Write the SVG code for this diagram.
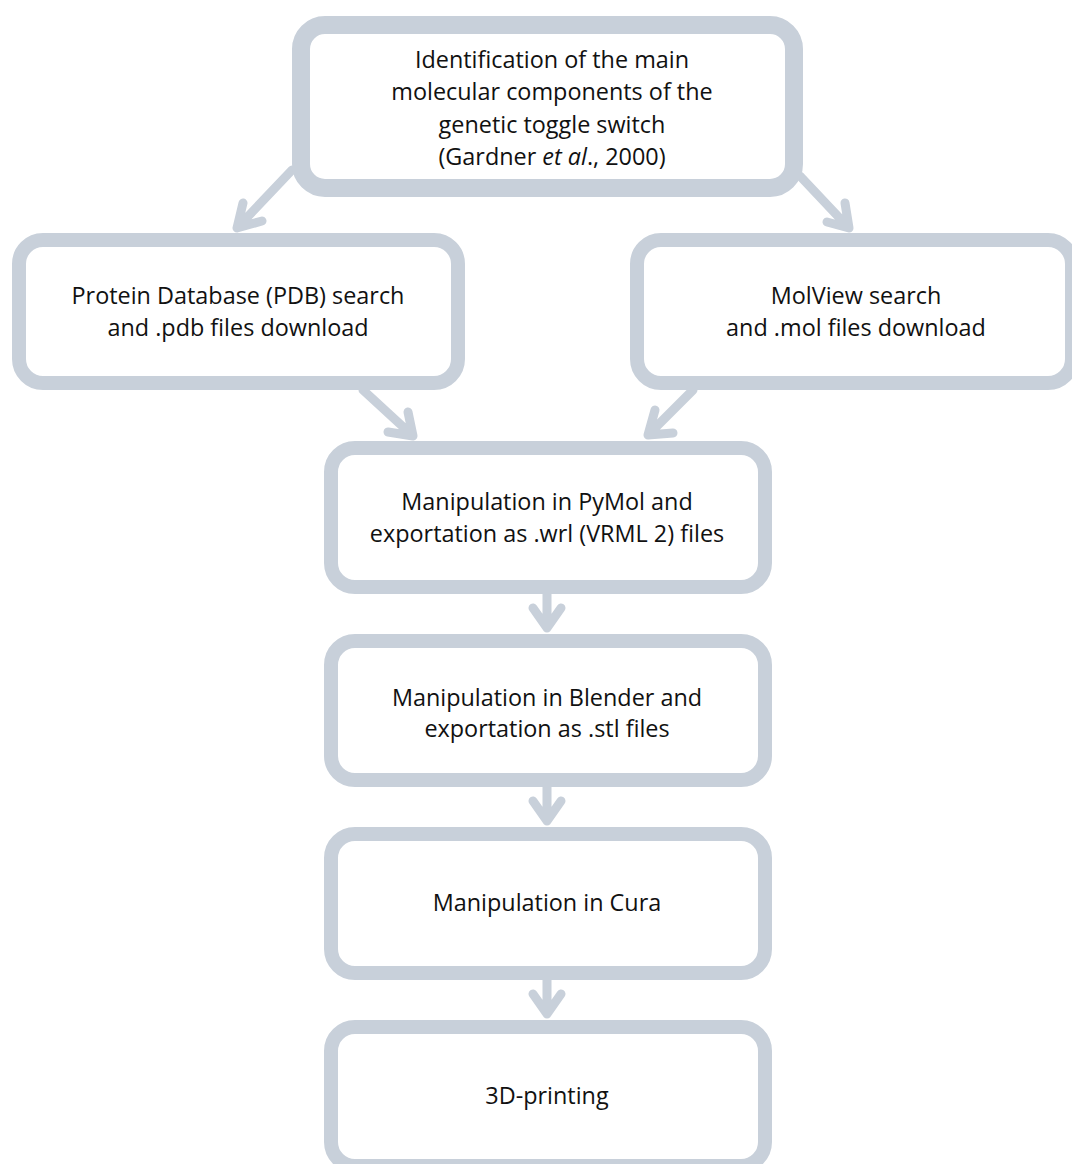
<svg xmlns="http://www.w3.org/2000/svg" width="1072" height="1164" viewBox="0 0 1072 1164">
<style>
.box{fill:#ffffff;stroke:#c8d0da;stroke-width:14}
.top{stroke-width:18}
.arr{fill:none;stroke:#c8d0da;stroke-width:9;stroke-linecap:round;stroke-linejoin:round}
text{font-family:"Open Sans","Noto Sans","Liberation Sans",sans-serif;font-size:23.4px;fill:#111111;text-anchor:middle}
</style>
<rect width="1072" height="1164" fill="#ffffff"/>
<g id="connectors">
<path class="arr" d="M292,170 L237,228 M243,203 L237,228 L262,221"/>
<path class="arr" d="M800,176 L849,228 M845,203 L849,228 L827,222"/>
<path class="arr" d="M363,390 L413,436 M408,412 L413,436 L388,432"/>
<path class="arr" d="M693,390 L648,435 M655,410 L648,435 L673,433"/>
<path class="arr" d="M547,594 L547,628 M533,608 L547,628 L561,608"/>
<path class="arr" d="M547,787 L547,821 M533,801 L547,821 L561,801"/>
<path class="arr" d="M547,980 L547,1014 M533,994 L547,1014 L561,994"/>
</g>
<g id="node-identification">
<rect class="box top" x="301" y="25" width="493" height="163" rx="24"/>
<text x="552" y="68">Identification of the main</text>
<text x="552" y="100">molecular components of the</text>
<text x="552" y="133">genetic toggle switch</text>
<text x="552" y="165">(Gardner <tspan font-style="italic">et al</tspan>., 2000)</text>
</g>
<g id="node-pdb">
<rect class="box" x="19" y="240" width="439" height="143" rx="24"/>
<text x="238" y="304">Protein Database (PDB) search</text>
<text x="238" y="336">and .pdb files download</text>
</g>
<g id="node-molview">
<rect class="box" x="637" y="240" width="435" height="143" rx="24"/>
<text x="856" y="304">MolView search</text>
<text x="856" y="336">and .mol files download</text>
</g>
<g id="node-pymol">
<rect class="box" x="331" y="448" width="434" height="139" rx="24"/>
<text x="547" y="510">Manipulation in PyMol and</text>
<text x="547" y="542">exportation as .wrl (VRML 2) files</text>
</g>
<g id="node-blender">
<rect class="box" x="331" y="641" width="434" height="139" rx="24"/>
<text x="547" y="706">Manipulation in Blender and</text>
<text x="547" y="737">exportation as .stl files</text>
</g>
<g id="node-cura">
<rect class="box" x="331" y="834" width="434" height="139" rx="24"/>
<text x="547" y="911">Manipulation in Cura</text>
</g>
<g id="node-printing">
<rect class="box" x="331" y="1027" width="434" height="139" rx="24"/>
<text x="547" y="1104">3D-printing</text>
</g>
</svg>
